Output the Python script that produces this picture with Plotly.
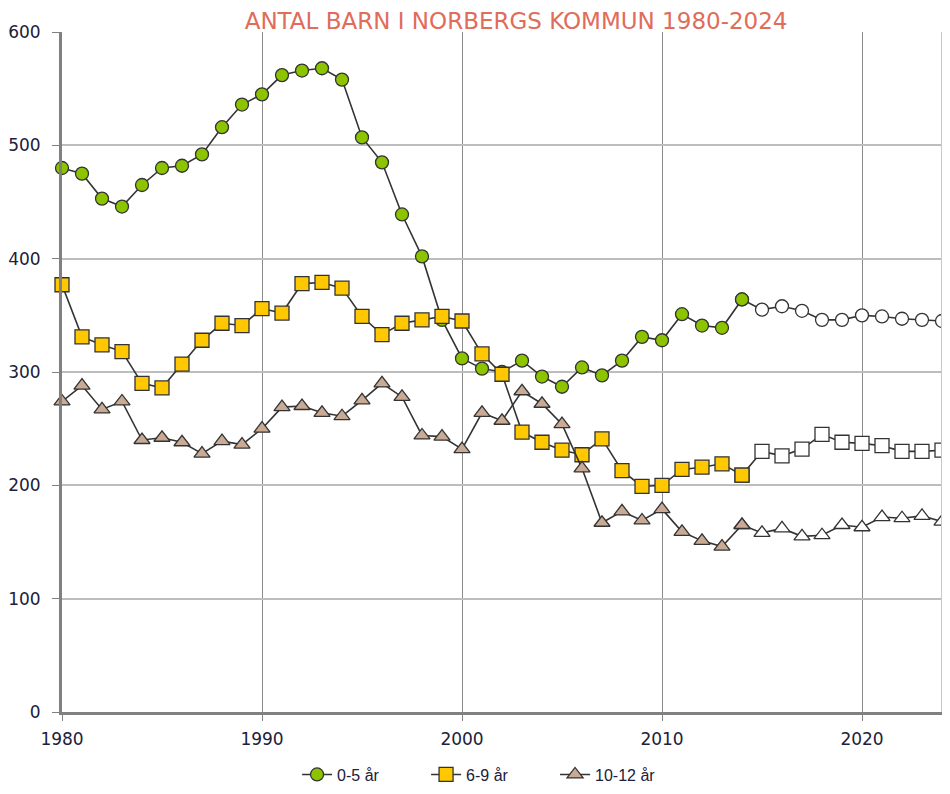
import plotly.graph_objects as go

years = list(range(1980, 2025))
last_actual_year = 2014

age_0_5 = [480, 475, 453, 446, 465, 480, 482, 492, 516, 536,
           545, 562, 566, 568, 558, 507, 485, 439, 402, 346,
           312, 303, 300, 310, 296, 287, 304, 297, 310, 331,
           328, 351, 341, 339, 364, 355, 358, 354, 346, 346,
           350, 349, 347, 346, 345]
age_6_9 = [377, 331, 324, 318, 290, 286, 307, 328, 343, 341,
           356, 352, 378, 379, 374, 349, 333, 343, 346, 349,
           345, 316, 298, 247, 238, 231, 227, 241, 213, 199,
           200, 214, 216, 219, 209, 230, 226, 232, 245, 238,
           237, 235, 230, 230, 231]
age_10_12 = [274, 288, 267, 274, 240, 242, 238, 228, 239, 236,
             250, 269, 270, 264, 261, 275, 290, 278, 244, 243,
             232, 264, 257, 283, 272, 254, 215, 167, 177, 169,
             179, 159, 151, 146, 165, 158, 162, 155, 156, 165,
             163, 172, 171, 173, 168]

series = [
    ("0-5 år", age_0_5, "circle", "#8CC400", 13),
    ("6-9 år", age_6_9, "square", "#FFC800", 14),
    ("10-12 år", age_10_12, "triangle-up", "#C9AB95", 14),
]

split = years.index(last_actual_year)
fig = go.Figure()
line_col = "#333333"
for name, vals, sym, col, size in series:
    # forecast part (drawn first, underneath)
    fig.add_trace(go.Scatter(
        x=years[split:], y=vals[split:], mode="lines+markers", name=name,
        showlegend=False, cliponaxis=False,
        line=dict(color=line_col, width=1.6),
        marker=dict(symbol=sym, size=size, color="white",
                    line=dict(color=line_col, width=1.3)),
    ))
    fig.add_trace(go.Scatter(
        x=years[:split + 1], y=vals[:split + 1], mode="lines+markers", name=name,
        cliponaxis=False,
        line=dict(color=line_col, width=1.6),
        marker=dict(symbol=sym, size=size, color=col,
                    line=dict(color=line_col, width=1.3)),
    ))

tick_font = dict(family="DejaVu Sans", size=17, color="#20203A")

fig.update_layout(
    width=934, height=778,
    margin=dict(l=54, r=0, t=24, b=74, autoexpand=False),
    paper_bgcolor="white", plot_bgcolor="white",
    title=dict(text="ANTAL BARN I NORBERGS KOMMUN 1980-2024",
               x=0.544, xanchor="center", y=0.983, yanchor="middle",
               font=dict(family="DejaVu Sans", size=23, color="#E06C5A")),
    font=dict(family="Liberation Sans, Arial", size=16, color="#20203A"),
    showlegend=True,
    legend=dict(orientation="h", x=0.487, xanchor="center", y=-0.092, yanchor="middle",
                font=dict(family="Liberation Sans, Arial", size=16, color="#20203A"),
                entrywidth=84, entrywidthmode="pixels"),
)
fig.update_xaxes(
    range=[1980, 2024], tickmode="array", tickvals=[1980, 1990, 2000, 2010, 2020],
    showgrid=True, gridcolor="#8C8C8C", gridwidth=1.2,
    showline=True, linecolor="#808080", linewidth=3,
    ticks="outside", ticklen=6, tickcolor="#808080",
    tickfont=tick_font, ticklabelstandoff=4,
    zeroline=False, automargin=False,
)
fig.update_yaxes(
    range=[0, 600], tickvals=[0, 100, 200, 300, 400, 500, 600],
    showgrid=True, gridcolor="#BDBDBD", gridwidth=1.6,
    showline=True, linecolor="#808080", linewidth=3,
    ticks="outside", ticklen=7, tickcolor="#808080",
    tickfont=tick_font, ticklabelstandoff=8,
    zeroline=False, automargin=False,
)
fig.add_shape(type="line", xref="paper", yref="paper", x0=1, x1=1, y0=0, y1=1,
              line=dict(color="#C8C8C8", width=2))

fig.write_html("out.html")
